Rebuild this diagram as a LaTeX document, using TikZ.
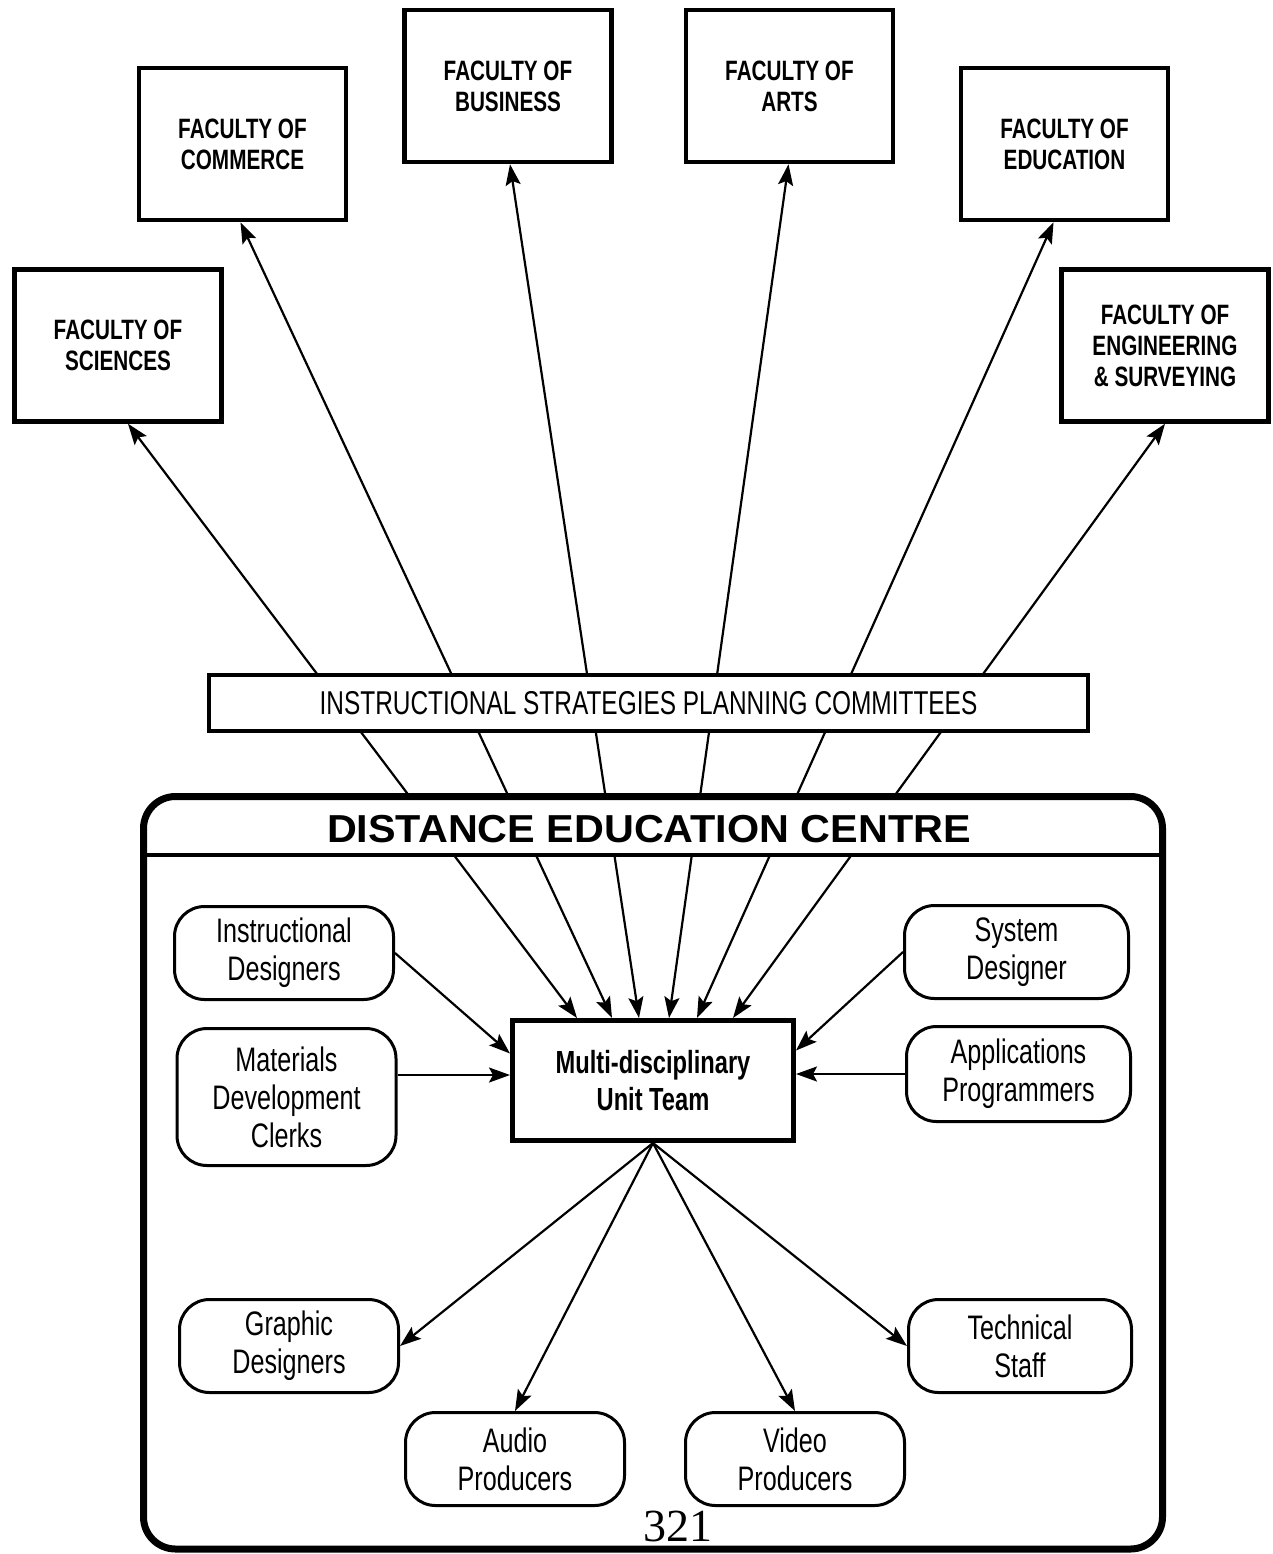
\documentclass[tikz,border=0pt]{standalone}
\usepackage{fontspec}
\setmainfont{Liberation Sans}
\newfontfamily\narrowfont{Liberation Sans}[FakeStretch=0.74]
\newfontfamily\widefont{Liberation Sans}[FakeStretch=1.06]
\newfontfamily\numfont{Liberation Serif}
\usetikzlibrary{arrows.meta,calc}

\begin{document}
\begin{tikzpicture}[x=1pt,y=-1pt,
  faculty/.style={draw, line width=4.5pt, fill=white, minimum width=207pt,
    minimum height=152pt, align=center, inner sep=0pt,
    font=\narrowfont\bfseries\fontsize{28pt}{31pt}\selectfont},
  staffbox/.style={draw, line width=3pt, rounded corners=30pt, fill=white,
    minimum width=219pt, minimum height=93pt, align=center, inner sep=0pt,
    font=\narrowfont\fontsize{34pt}{38pt}\selectfont},
  teambox/.style={draw, line width=5pt, fill=white, minimum width=281pt,
    minimum height=120pt, align=center, inner sep=0pt,
    font=\narrowfont\bfseries\fontsize{32pt}{37pt}\selectfont},
  tip/.tip={Stealth[length=21pt,width=15pt,inset=4pt]},
  arr/.style={-tip, line width=2.2pt},
  biarr/.style={tip-tip, line width=2.2pt}
]
\useasboundingbox (0,0) rectangle (1272,1554);

% faculties
\node[faculty] (sci) at (118,345.5)  {FACULTY OF\\SCIENCES};
\node[faculty] (com) at (242.5,144)  {FACULTY OF\\COMMERCE};
\node[faculty] (bus) at (508,86)     {FACULTY OF\\BUSINESS};
\node[faculty] (art) at (789.5,86)   {FACULTY OF\\ARTS};
\node[faculty] (edu) at (1064.5,144) {FACULTY OF\\EDUCATION};
\node[faculty] (eng) at (1165,345.5) {FACULTY OF\\ENGINEERING\\\& SURVEYING};

% unit team and staff groups
\node[teambox] (mut) at (653,1080.5) {Multi-disciplinary\\Unit Team};
\node[staffbox] (insd) at (284,953)     {Instructional\\Designers};
\node[staffbox, minimum height=137pt] (mat) at (286.5,1097) {Materials\\Development\\Clerks};
\node[staffbox, minimum width=224pt] (sysd) at (1016.5,952) {System\\Designer};
\node[staffbox, minimum width=224pt, minimum height=95pt] (app) at (1018.5,1074) {Applications\\Programmers};
\node[staffbox] (gra) at (289,1346)  {Graphic\\Designers};
\node[staffbox] (aud) at (515,1459)  {Audio\\Producers};
\node[staffbox] (vid) at (795,1459)  {Video\\Producers};
\node[staffbox, minimum width=223pt] (tec) at (1020,1346) {Technical\\Staff};

% links between the unit team and the faculties
\draw[biarr] ([xshift=-76pt]mut.north) -- ([xshift=10pt]sci.south);
\draw[biarr] ([xshift=-41pt]mut.north) -- ([xshift=-2pt]com.south);
\draw[biarr] ([xshift=-14pt]mut.north) -- ([xshift=2pt]bus.south);
\draw[biarr] ([xshift=16pt]mut.north)  -- ([xshift=-1pt]art.south);
\draw[biarr] ([xshift=44pt]mut.north)  -- ([xshift=-11pt]edu.south);
\draw[biarr] ([xshift=80pt]mut.north)  -- (eng.south);

% staff feeding the unit team
\draw[arr] (insd.east) -- ([yshift=27pt]mut.west);
\draw[arr] ([yshift=22pt]mat.east) -- ([yshift=22pt]mat.east -| mut.west);
\draw[arr] (sysd.west) -- ([yshift=30pt]mut.east);
\draw[arr] (app.west) -- (app.west -| mut.east);

% unit team to production staff
\draw[arr] (mut.south) -- (gra.east);
\draw[arr] (mut.south) -- (aud.north);
\draw[arr] (mut.south) -- (vid.north);
\draw[arr] (mut.south) -- (tec.west);

% page number
\node[font=\numfont\fontsize{46pt}{50pt}\selectfont, anchor=base west, inner sep=0pt]
  (pagenum) at (643,1541) {321};

% Distance Education Centre frame with its header band
\fill[white] (143.5,855) [rounded corners=32pt] -- (143.5,796.5) -- (1162.5,796.5)
  [sharp corners] -- (1162.5,855) -- cycle;
\node[draw, line width=7pt, rounded corners=32pt, minimum width=1019pt,
  minimum height=752.5pt, inner sep=0pt] (dec) at (653,1172.75) {};
\draw[line width=4pt] (143.5,855) -- (1162.5,855);
\node[font=\widefont\bfseries\fontsize{39pt}{44pt}\selectfont, inner sep=0pt]
  (dectitle) at (649,829) {DISTANCE EDUCATION CENTRE};

% planning committees bar
\node[draw, line width=4pt, fill=white, minimum width=879pt, minimum height=56pt,
  inner sep=0pt, font=\narrowfont\fontsize{33pt}{36pt}\selectfont]
  (isp) at (648.5,703) {INSTRUCTIONAL STRATEGIES PLANNING COMMITTEES};
\end{tikzpicture}
\end{document}
